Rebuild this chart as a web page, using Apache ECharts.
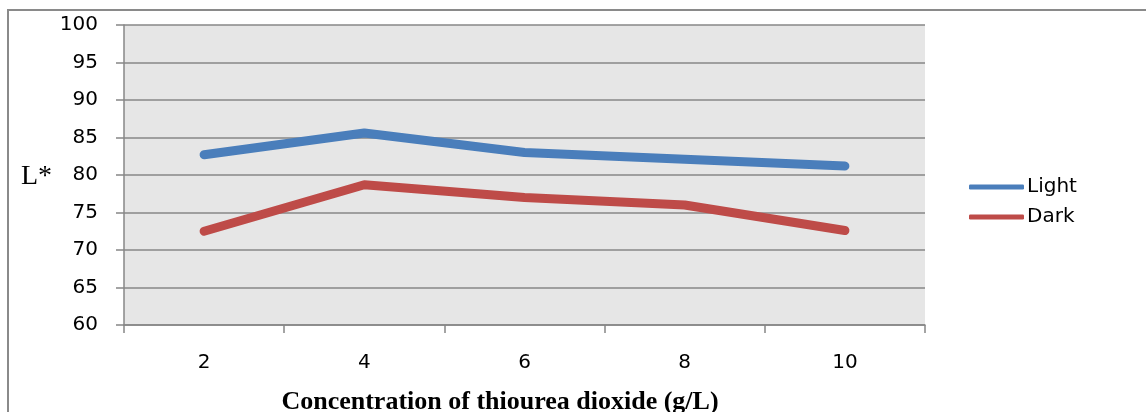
<!DOCTYPE html>
<html>
<head>
<meta charset="utf-8">
<script src="https://cdn.jsdelivr.net/npm/echarts@6/dist/echarts.min.js"></script>
<style>
  html, body { margin: 0; padding: 0; background: #fff; overflow: hidden; }
  #chart { width: 1146px; height: 412px; }
</style>
</head>
<body>
<div id="chart"></div>
<script>
// Data
const concentrations = ['2', '4', '6', '8', '10'];
const lightValues = [82.7, 85.6, 83.0, 82.1, 81.2];
const darkValues = [72.5, 78.7, 77.0, 76.0, 72.6];
const seriesNames = ['Light', 'Dark'];
const yTicks = { min: 60, max: 100, interval: 5 };

const chart = echarts.init(document.getElementById('chart'));

const labelFont = '"DejaVu Sans", sans-serif';
const gridColor = '#878787';

const option = {
  animation: false,
  grid: {
    left: 124,
    right: 221,
    top: 25,
    bottom: 87,
    show: true,
    backgroundColor: '#e6e6e6',
    borderWidth: 0
  },
  legend: {
    orient: 'vertical',
    left: 964,
    top: 172,
    itemWidth: 55,
    itemHeight: 5,
    itemGap: 10,
    icon: 'roundRect',
    textStyle: { fontFamily: labelFont, fontSize: 20, color: '#000', padding: [0, 0, 0, -2] },
    data: seriesNames
  },
  xAxis: {
    type: 'category',
    data: concentrations,
    boundaryGap: true,
    axisLine: { lineStyle: { color: gridColor, width: 1.5 } },
    axisTick: { show: true, length: 8, lineStyle: { color: gridColor, width: 1.5 } },
    axisLabel: { fontFamily: labelFont, fontSize: 20, color: '#000', margin: 28 },
    splitLine: { show: false }
  },
  yAxis: {
    type: 'value',
    min: yTicks.min,
    max: yTicks.max,
    interval: yTicks.interval,
    axisLine: { show: true, lineStyle: { color: gridColor, width: 1.5 } },
    axisTick: { show: true, length: 8, lineStyle: { color: gridColor, width: 1.5 } },
    axisLabel: { fontFamily: labelFont, fontSize: 20, color: '#000', margin: 26 },
    splitLine: { show: true, lineStyle: { color: gridColor, width: 1.5 } }
  },
  series: [
    {
      name: seriesNames[0],
      type: 'line',
      data: lightValues,
      symbol: 'none',
      color: '#4a7ebb',
      lineStyle: { width: 9, cap: 'round', join: 'round' }
    },
    {
      name: seriesNames[1],
      type: 'line',
      data: darkValues,
      symbol: 'none',
      color: '#be4b48',
      lineStyle: { width: 9, cap: 'round', join: 'round' }
    }
  ],
  graphic: [
    {
      // outer chart border: only the top and left edges are in view
      type: 'polyline',
      shape: { points: [[8, 430], [8, 10], [1146, 10]] },
      style: { fill: 'none', stroke: '#8a8a8a', lineWidth: 2 },
      silent: true
    },
    {
      type: 'text',
      left: 21,
      top: 163,
      style: {
        text: 'L*',
        font: '28px "Liberation Serif", serif',
        fill: '#000'
      }
    },
    {
      type: 'text',
      x: 500,
      y: 402,
      style: {
        text: 'Concentration of thiourea dioxide (g/L)',
        font: 'bold 26px "Liberation Serif", serif',
        fill: '#000',
        align: 'center',
        verticalAlign: 'middle'
      }
    }
  ]
};

chart.setOption(option);
</script>
</body>
</html>
